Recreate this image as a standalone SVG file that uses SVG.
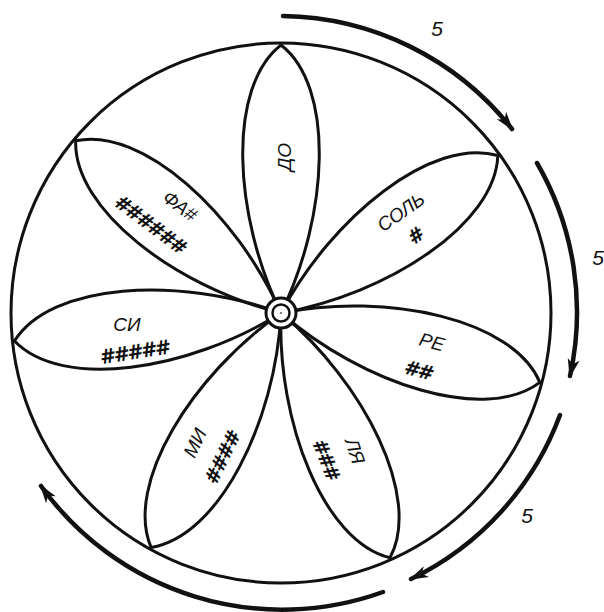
<svg xmlns="http://www.w3.org/2000/svg" width="604" height="612" viewBox="0 0 604 612">
<style>
.ln{fill:none;stroke:#111;stroke-width:3;stroke-linecap:round;stroke-linejoin:round}
.arc{fill:none;stroke:#111;stroke-width:4.5;stroke-linecap:round}
.lbl{font-family:"Liberation Sans",Arial,sans-serif;font-style:italic;font-size:19px;fill:#111;text-anchor:middle;dominant-baseline:central}
.sh{font-family:"DejaVu Sans","Liberation Sans",sans-serif;font-weight:bold;font-style:italic;font-size:20px;fill:#111;text-anchor:middle;dominant-baseline:central;letter-spacing:0px}
.num{font-family:"Liberation Sans",Arial,sans-serif;font-style:italic;font-size:21px;fill:#111;text-anchor:middle;dominant-baseline:central}
</style>
<defs>
<path id="petal" d="M0,0 C98,-48 226,-54 268,0 C226,54 98,48 0,0 Z"/>
<marker id="ah" markerUnits="userSpaceOnUse" markerWidth="24" markerHeight="16" viewBox="-20 -8 24 16" refX="0" refY="0" orient="auto">
<path d="M2,0 L-17,-6 L-12,0 L-17,6 Z" fill="#111"/>
</marker>
</defs>
<rect width="604" height="612" fill="#fff"/>
<g id="outer-circle"><circle cx="281" cy="313" r="270" class="ln"/></g>
<g id="petal-do"><use href="#petal" class="ln" transform="translate(281,313) rotate(-90)"/><text class="lbl" transform="translate(284,157) rotate(-90)">ДО</text></g>
<g id="petal-sol"><use href="#petal" class="ln" transform="translate(281,313) rotate(-36)"/><text class="lbl" transform="translate(401,212) rotate(-35)">СОЛЬ</text><text class="sh" transform="translate(415,236) rotate(-35)">#</text></g>
<g id="petal-re"><use href="#petal" class="ln" transform="translate(281,313) rotate(15)"/><text class="lbl" transform="translate(432,342) rotate(15)">РЕ</text><text class="sh" transform="translate(418,370) rotate(15)">##</text></g>
<g id="petal-lya"><use href="#petal" class="ln" transform="translate(281,313) rotate(66)"/><text class="lbl" transform="translate(355,451) rotate(72)">ЛЯ</text><text class="sh" transform="translate(326,459) rotate(68)">###</text></g>
<g id="petal-mi"><use href="#petal" class="ln" transform="translate(281,313) rotate(119)"/><text class="lbl" transform="translate(195,443) rotate(-64)">МИ</text><text class="sh" transform="translate(222,458) rotate(-64)">####</text></g>
<g id="petal-si"><use href="#petal" class="ln" transform="translate(281,313) rotate(174)"/><text class="lbl" transform="translate(127,324)">СИ</text><text class="sh" transform="translate(134,352) rotate(-9)">#####</text></g>
<g id="petal-fa"><use href="#petal" class="ln" transform="translate(281,313) rotate(220)"/><text class="lbl" transform="translate(180,206) rotate(37)">ФА#</text><text class="sh" transform="translate(150,224) rotate(37)">######</text></g>
<g id="hub"><circle cx="281" cy="313" r="15" fill="#fff" stroke="#111" stroke-width="3"/><circle cx="281" cy="313" r="8.5" fill="#fff" stroke="#111" stroke-width="2.5"/><circle cx="281" cy="313" r="1" fill="#555"/></g>
<g id="connectors">
<path class="arc" d="M283,16 A297,297 0 0 1 512,129" marker-end="url(#ah)"/>
<path class="arc" d="M537,163 A297,297 0 0 1 570,376" marker-end="url(#ah)"/>
<path class="arc" d="M560,415 A297,297 0 0 1 411,579" marker-end="url(#ah)"/>
<path class="arc" d="M383,592 A297,297 0 0 1 41,486" marker-end="url(#ah)"/>
<text class="num" x="437" y="28">5</text>
<text class="num" x="598" y="257">5</text>
<text class="num" x="527" y="515">5</text>
</g>
</svg>
